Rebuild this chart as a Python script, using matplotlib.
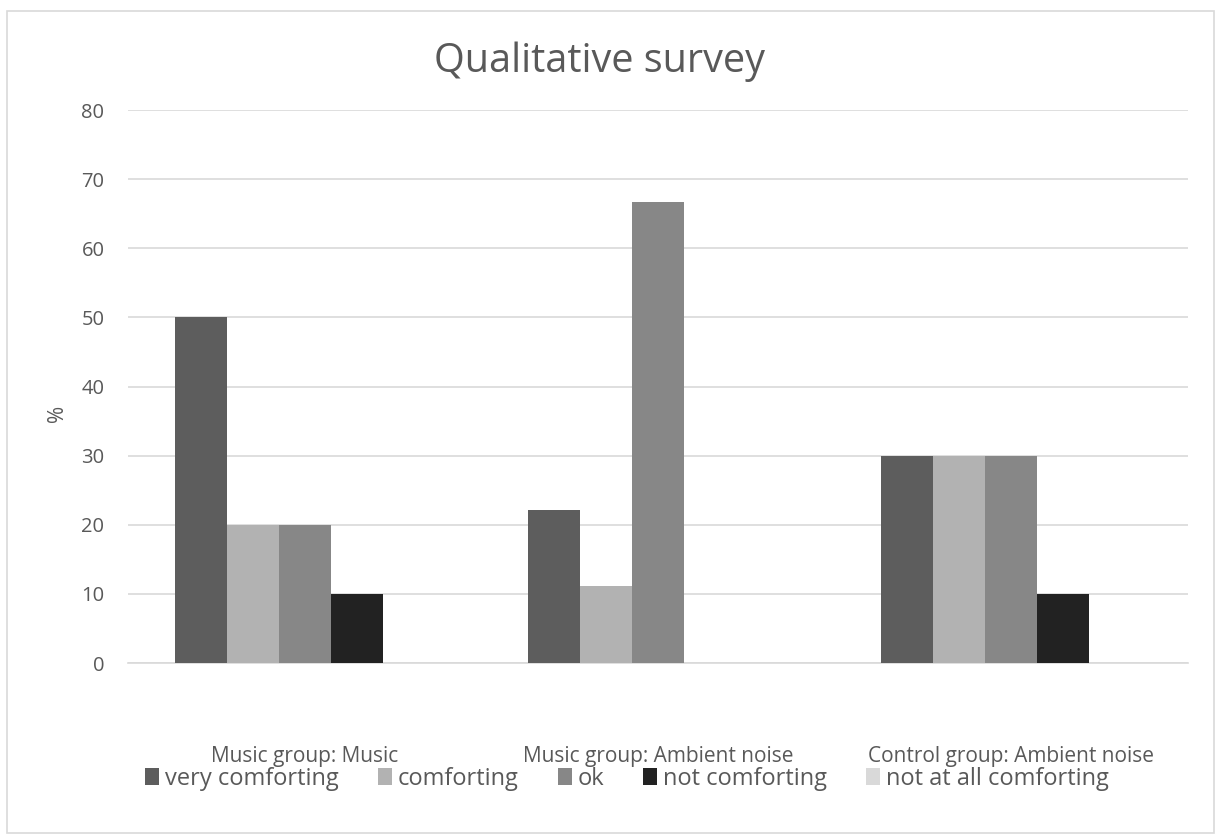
import numpy as np
import matplotlib.pyplot as plt
from matplotlib.patches import Rectangle

plt.rcParams['font.family'] = ['Open Sans', 'DejaVu Sans']

# Data
categories = ['Music group: Music', 'Music group: Ambient noise', 'Control group: Ambient noise']
series = ['very comforting', 'comforting', 'ok', 'not comforting', 'not at all comforting']
very_comforting = [50, 22.2, 30]
comforting = [20, 11.1, 30]
ok = [20, 66.7, 30]
not_comforting = [10, 0, 10]
not_at_all = [0, 0, 0]
values = [very_comforting, comforting, ok, not_comforting, not_at_all]
colors = ['#5d5d5d', '#b2b2b2', '#878787', '#222222', '#d9d9d9']

text_col = '#595959'

fig = plt.figure(figsize=(12.19, 8.38), dpi=100)
ax = fig.add_axes([128 / 1219, 1 - 663 / 838, 1060 / 1219, 553 / 838])

# chart border
fig.patches.append(Rectangle((7 / 1219, 5 / 838), 1207 / 1219, 822 / 838,
                             transform=fig.transFigure, fill=False,
                             edgecolor='#d9d9d9', linewidth=1.2))

x = np.arange(len(categories))
width = 0.147
for i, (name, vals) in enumerate(zip(series, values)):
    ax.bar(x + (i - 2) * width, vals, width, color=colors[i], label=name, zorder=3)

ax.set_xlim(-0.5, 2.5)
ax.set_ylim(0, 80)
ax.set_yticks(np.arange(0, 81, 10))
ax.yaxis.grid(True, color='#d9d9d9', linewidth=1.2, zorder=0)
ax.set_axisbelow(True)
for s in ['top', 'right', 'left']:
    ax.spines[s].set_visible(False)
ax.spines['bottom'].set_color('#d9d9d9')
ax.spines['bottom'].set_linewidth(1.2)
ax.tick_params(axis='y', length=0, colors=text_col, labelsize=14.5, pad=17)
ax.tick_params(axis='x', length=0, colors=text_col, labelsize=15, pad=60)
ax.set_xticks(x)
ax.set_xticklabels(categories)

fig.text(58 / 1219, 1 - 413 / 838, '%', color=text_col, fontsize=15,
         rotation=90, ha='center', va='center')
fig.text(599 / 1219, 1 - 62 / 838, 'Qualitative survey', color=text_col,
         fontsize=28.5, ha='center', va='center')

leg = fig.legend(loc='center', bbox_to_anchor=(627 / 1219, 1 - 779 / 838), ncol=5,
                 frameon=False, fontsize=17, handlelength=0.6, handleheight=0.75,
                 handletextpad=0.25, columnspacing=1.65, labelcolor=text_col)

fig.savefig('out.png', dpi=100)
